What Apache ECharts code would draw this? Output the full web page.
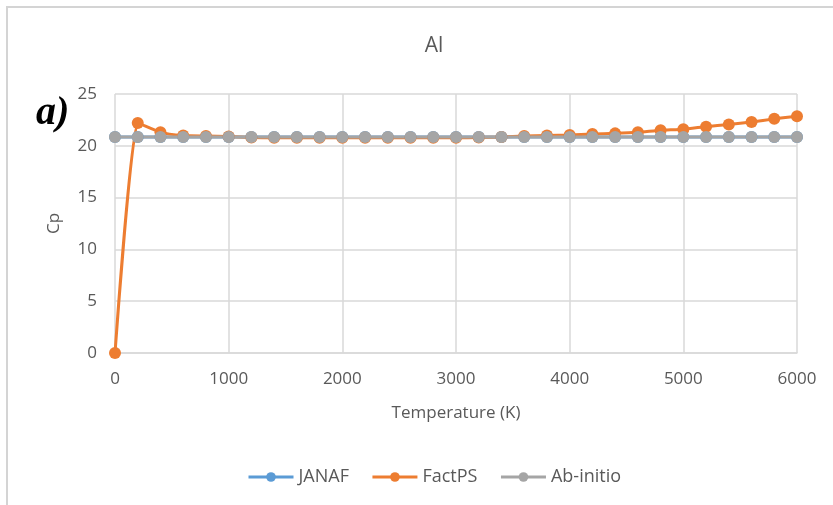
<!DOCTYPE html>
<html>
<head>
<meta charset="utf-8">
<script src="https://cdn.jsdelivr.net/npm/echarts@6/dist/echarts.min.js"></script>
<style>html,body{margin:0;padding:0;background:#fff}#c{width:833px;height:505px}</style>
</head>
<body>
<div id="c"></div>
<script>
const temps = [0,200,400,600,800,1000,1200,1400,1600,1800,2000,2200,2400,2600,2800,3000,3200,3400,3600,3800,4000,4200,4400,4600,4800,5000,5200,5400,5600,5800,6000];
const janaf = [20.85,20.85,20.85,20.85,20.85,20.85,20.85,20.85,20.85,20.85,20.85,20.85,20.85,20.85,20.85,20.85,20.85,20.85,20.85,20.85,20.85,20.85,20.85,20.85,20.85,20.85,20.85,20.85,20.85,20.85,20.85];
const factPS = [0,22.2,21.3,21.0,20.95,20.9,20.8,20.78,20.78,20.78,20.78,20.78,20.78,20.78,20.78,20.78,20.8,20.85,20.95,21.0,21.05,21.15,21.2,21.3,21.5,21.6,21.85,22.05,22.3,22.6,22.85];
const abInitio = [20.85,20.85,20.85,20.85,20.85,20.85,20.85,20.85,20.85,20.85,20.85,20.85,20.85,20.85,20.85,20.85,20.85,20.85,20.85,20.85,20.85,20.85,20.85,20.85,20.85,20.85,20.85,20.85,20.85,20.85,20.85];
const seriesNames = ['JANAF','FactPS','Ab-initio'];
const xTicks = {min:0, max:6000, interval:1000};
const yTicks = {min:0, max:25, interval:5};

const pair = (xs, ys) => xs.map((x,i)=>[x, ys[i]]);
const font = "'Open Sans', sans-serif";
const txt = '#595959';

const chart = echarts.init(document.getElementById('c'), null, {renderer:'canvas'});
const mk = (name, data, color) => ({
  name, type:'line', data, smooth:0.15,
  symbol:'circle', symbolSize:12,
  lineStyle:{color, width:3},
  itemStyle:{color},
  emphasis:{disabled:true}
});
chart.setOption({
  animation:false,
  backgroundColor:'#fff',
  title:{text:'Al', left:429, top:31, textAlign:'center',
    textStyle:{fontFamily:font, fontSize:21, fontWeight:'normal', color:txt}},
  grid:{left:115, right:36, top:94, bottom:152},
  xAxis:{type:'value', min:xTicks.min, max:xTicks.max, interval:xTicks.interval,
    name:'Temperature (K)', nameLocation:'middle', nameGap:52,
    nameTextStyle:{fontFamily:font, fontSize:17, color:txt},
    axisLine:{show:true, lineStyle:{color:'#d9d9d9', width:1.5}},
    axisTick:{show:false},
    axisLabel:{fontFamily:font, fontSize:17, color:txt, margin:18, formatter:(v)=>String(v)},
    splitLine:{show:true, lineStyle:{color:'#d9d9d9', width:1.5}}},
  yAxis:{type:'value', min:yTicks.min, max:yTicks.max, interval:yTicks.interval,
    name:'Cp', nameLocation:'middle', nameGap:52,
    nameTextStyle:{fontFamily:font, fontSize:17, color:txt},
    axisLine:{show:false}, axisTick:{show:false},
    axisLabel:{fontFamily:font, fontSize:17, color:txt, margin:18},
    splitLine:{show:true, lineStyle:{color:'#d9d9d9', width:1.5}}},
  legend:{data:seriesNames, bottom:14, left:242, itemWidth:45, itemHeight:12, itemGap:22,
    lineStyle:{width:3},
    textStyle:{fontFamily:font, fontSize:18, color:txt}},
  graphic:[
    {type:'rect', shape:{x:7, y:7, width:1000, height:1000}, style:{fill:'none', stroke:'#d4d4d4', lineWidth:2}, silent:true, z:-1},
    {type:'text', left:36, top:94, style:{text:'a)', font:"italic bold 40px 'Liberation Serif', serif", fill:'#000'}}
  ],
  series:[
    mk(seriesNames[0], pair(temps, janaf), '#5B9BD5'),
    mk(seriesNames[1], pair(temps, factPS), '#ED7D31'),
    mk(seriesNames[2], pair(temps, abInitio), '#A5A5A5')
  ]
});
</script>
</body>
</html>
